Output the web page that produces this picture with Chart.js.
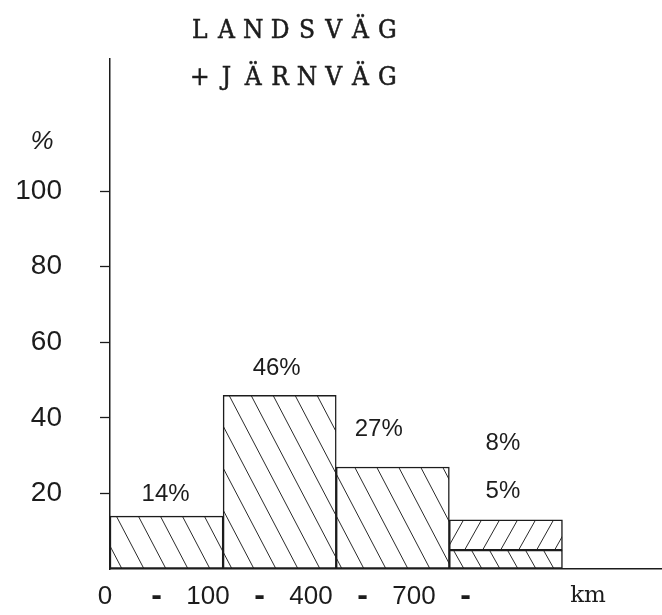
<!DOCTYPE html>
<html>
<head>
<meta charset="utf-8">
<title>Landsväg + järnväg</title>
<script src="https://cdn.jsdelivr.net/npm/chart.js@4.4.1/dist/chart.umd.min.js"></script>
<style>
  html, body { margin: 0; padding: 0; background: #fff; }
  #wrap { width: 662px; height: 615px; }
</style>
</head>
<body>
<div id="wrap"><canvas id="chart" width="662" height="615"></canvas></div>
<script>
// distance bands in km (bar edges)
const bandEdges = ['0', '100', '400', '700'];
// share per band, %
const share = [14, 46, 27, 5];
// extra share stacked on top of the last band, %
const shareTop = [null, null, null, 8];
const yTicks = [20, 40, 60, 80, 100];
const titleLines = ['L A N D S V Ä G', '+ J Ä R N V Ä G'];

const ink = '#1c1c1c';
const sans = '"Liberation Sans", Arial, sans-serif';
const canvas = document.getElementById('chart');
const ctx = canvas.getContext('2d');

// diagonal line hatch, dir 1 = "\" and -1 = "/"
function hatch(step, rise, dir) {
  const c = document.createElement('canvas');
  c.width = step;
  c.height = rise;
  const g = c.getContext('2d');
  g.fillStyle = '#fff';
  g.fillRect(0, 0, step, rise);
  g.strokeStyle = '#2a2a2a';
  g.lineWidth = 1;
  for (const off of [-step, 0, step]) {
    g.beginPath();
    if (dir > 0) { g.moveTo(off, 0); g.lineTo(off + step, rise); }
    else { g.moveTo(off, rise); g.lineTo(off + step, 0); }
    g.stroke();
  }
  return ctx.createPattern(c, 'repeat');
}

const wide = hatch(22, 42, 1);
const fine = hatch(18, 32, 1);
const fwd = hatch(18, 32, -1);

const toPoints = arr => arr
  .map((v, i) => ({ x: i + 0.5, y: v }))
  .filter(p => p.y !== null);

// typed lettering: title, unit, value labels and the km line
const typed = {
  id: 'typed',
  afterDraw(chart) {
    const { ctx, chartArea: a } = chart;
    ctx.save();
    ctx.fillStyle = ink;
    ctx.strokeStyle = ink;
    ctx.textAlign = 'center';
    ctx.textBaseline = 'middle';

    // typewriter title, fixed pitch
    ctx.font = '26px "DejaVu Serif Condensed", "DejaVu Serif", serif';
    ctx.lineWidth = 0.5;
    const pitch = 13.4;
    titleLines.forEach((line, r) => {
      [...line].forEach((ch, i) => {
        if (ch === ' ') return;
        const cx = 193 + (i + 0.5) * pitch;
        const cy = 31 + r * 47;
        ctx.fillText(ch, cx, cy);
        ctx.strokeText(ch, cx, cy);
      });
    });

    ctx.font = 'italic 26px ' + sans;
    ctx.fillText('%', 42, 142);

    // value labels above the bars
    ctx.font = '24px ' + sans;
    const base = chart.getDatasetMeta(0).data;
    const top = chart.getDatasetMeta(1).data;
    const lift = [[-1, 22], [-3, 27], [-14, 38], [-3, 29]];
    base.forEach((el, i) => {
      const yTop = i === base.length - 1 && top.length ? top[0].y : el.y;
      ctx.fillText(share[i] + '%', el.x + lift[i][0], yTop - lift[i][1]);
    });
    top.forEach(el => {
      const v = shareTop[shareTop.length - 1];
      ctx.fillText(v + '%', el.x - 3, el.y - 77);
    });

    // "0 - 100 - 400 - 700 -    km"
    const tokens = [];
    bandEdges.forEach(e => tokens.push(e, '-'));
    tokens.forEach((t, k) => {
      ctx.font = t === '-' ? 'bold 32px ' + sans : '26px ' + sans;
      ctx.fillText(t, a.left - 5 + k * 51.5, t === '-' ? 596 : 597);
    });
    ctx.font = '23px "DejaVu Serif", serif';
    ctx.fillText('km', a.left + 478, 596);
    ctx.restore();
  }
};

new Chart(ctx, {
  type: 'bar',
  data: {
    datasets: [
      {
        data: toPoints(share),
        backgroundColor: [wide, wide, wide, fine],
        borderColor: ink,
        borderWidth: 1.5,
        borderSkipped: false
      },
      {
        data: toPoints(shareTop),
        backgroundColor: fwd,
        borderColor: ink,
        borderWidth: 1.5,
        borderSkipped: false
      }
    ]
  },
  options: {
    responsive: false,
    animation: false,
    layout: { padding: { top: 59, left: 0, right: 0, bottom: 0 } },
    datasets: { bar: { categoryPercentage: 1, barPercentage: 1 } },
    plugins: {
      legend: { display: false },
      tooltip: { enabled: false },
      title: { display: false }
    },
    scales: {
      x: {
        type: 'linear',
        stacked: true,
        offset: false,
        min: 0,
        max: 4.88,
        ticks: { display: false, stepSize: 1, includeBounds: false },
        grid: { display: false, offset: false },
        border: { display: true, color: ink, width: 1.5 },
        afterFit(s) { s.height = 46; s.paddingLeft = 0; s.paddingRight = 0; }
      },
      y: {
        stacked: true,
        min: 0,
        max: 135,
        ticks: {
          stepSize: 20,
          padding: 38,
          color: ink,
          font: { family: sans, size: 28 },
          callback: v => (yTicks.includes(v) ? String(v) : '')
        },
        grid: {
          drawOnChartArea: false,
          tickLength: 10,
          tickWidth: 1.3,
          tickColor: c => (yTicks.includes(c.tick && c.tick.value) ? ink : 'rgba(0,0,0,0)')
        },
        border: { display: true, color: ink, width: 1.5 },
        afterFit(s) { s.width = 110; s.paddingTop = 0; s.paddingBottom = 0; }
      }
    }
  },
  plugins: [typed]
});
</script>
</body>
</html>
